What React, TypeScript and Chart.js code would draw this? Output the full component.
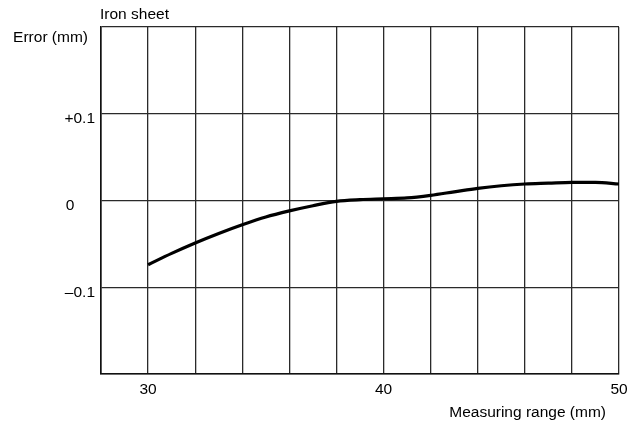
import React, { useEffect, useRef } from "react";
import { Chart, registerables } from "chart.js";

Chart.register(...registerables);

const xValues = [30, 31, 32, 33, 34, 35, 36, 37, 38, 39, 40, 41, 42, 43, 44, 45, 46, 47, 48, 49, 50];
const errorValues = [-0.074, -0.061, -0.049, -0.038, -0.028, -0.019, -0.012, -0.006, -0.001, 0.001, 0.002, 0.003, 0.006, 0.010, 0.014, 0.017, 0.019, 0.020, 0.021, 0.021, 0.019];
const xTickLabels = [30, 40, 50];
const yTickLabels = [
  { v: 0.1, t: "+0.1" },
  { v: 0, t: "0" },
  { v: -0.1, t: "\u20130.1" },
];

const FONT = "15.5px 'Liberation Sans', Arial, Helvetica, sans-serif";

const textPlugin = {
  id: "textPlugin",
  afterDraw(chart: any) {
    const ctx = chart.ctx;
    const area = chart.chartArea;
    const x = chart.scales.x;
    const y = chart.scales.y;
    ctx.save();
    ctx.fillStyle = "#000";
    ctx.font = FONT;
    ctx.textBaseline = "middle";
    ctx.textAlign = "left";
    ctx.fillText("Iron sheet", area.left - 1, 15);
    ctx.textAlign = "right";
    ctx.fillText("Error (mm)", area.left - 13, 38);
    yTickLabels.forEach((l) => {
      const py = y.getPixelForValue(l.v) + 5;
      if (l.v === 0) {
        ctx.textAlign = "center";
        ctx.fillText(l.t, 70, py);
      } else {
        ctx.textAlign = "right";
        ctx.fillText(l.t, area.left - 6, py);
      }
    });
    ctx.textAlign = "center";
    xTickLabels.forEach((v) => {
      ctx.fillText(String(v), x.getPixelForValue(v), area.bottom + 16);
    });
    ctx.textAlign = "right";
    ctx.fillText("Measuring range (mm)", area.right - 13, area.bottom + 39);
    ctx.restore();
  },
};

export default function App() {
  const ref = useRef<HTMLCanvasElement>(null);
  useEffect(() => {
    if (!ref.current) return;
    const chart = new Chart(ref.current, {
      type: "line",
      data: {
        datasets: [
          {
            data: xValues.map((x, i) => ({ x, y: errorValues[i] })),
            borderColor: "#000",
            borderWidth: 3.2,
            pointRadius: 0,
            cubicInterpolationMode: "monotone",
            fill: false,
          },
        ],
      },
      options: {
        animation: false,
        responsive: false,
        maintainAspectRatio: false,
        layout: { padding: { top: 27, right: 17, left: 0, bottom: 0 } },
        plugins: { legend: { display: false }, tooltip: { enabled: false }, title: { display: false } },
        scales: {
          x: {
            type: "linear",
            min: 28,
            max: 50,
            ticks: { stepSize: 2, display: false },
            grid: { color: "#2a2a2a", lineWidth: 1.3, drawTicks: false },
            border: { color: "#111", width: 1.6 },
            afterFit: (s: any) => {
              s.height = 56;
            },
          },
          y: {
            type: "linear",
            min: -0.2,
            max: 0.2,
            ticks: { stepSize: 0.1, display: false },
            grid: { color: "#2a2a2a", lineWidth: 1.3, drawTicks: false },
            border: { color: "#111", width: 1.6 },
            afterFit: (s: any) => {
              s.width = 101;
            },
          },
        },
      },
      plugins: [textPlugin],
    });
    return () => chart.destroy();
  }, []);
  return (
    <div style={{ position: "absolute", left: 0, top: 0, width: 636, height: 430, background: "#fff" }}>
      <canvas ref={ref} width={636} height={430} style={{ width: 636, height: 430 }} />
    </div>
  );
}
